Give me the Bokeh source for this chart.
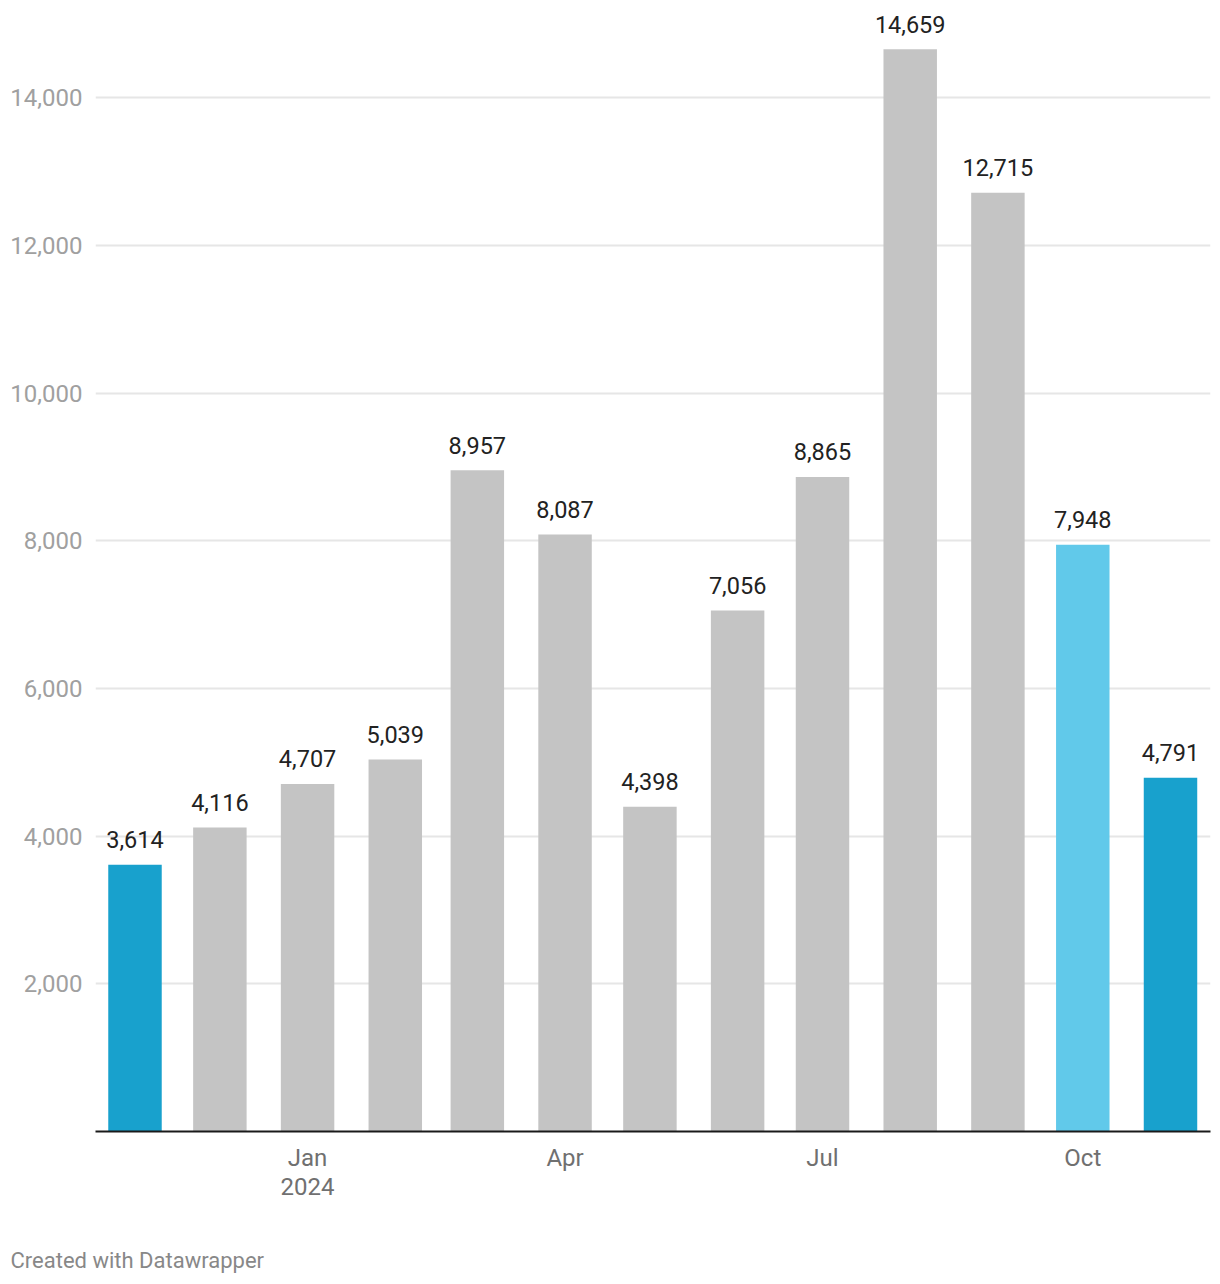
import pandas as pd
from bokeh.plotting import figure
from bokeh.models import ColumnDataSource, FixedTicker, Title, Range1d, NumeralTickFormatter
from bokeh.core.properties import value
from bokeh.embed import file_html
from bokeh.resources import INLINE

# ---- data ----
months = ["2023-11", "2023-12", "2024-01", "2024-02", "2024-03", "2024-04", "2024-05",
          "2024-06", "2024-07", "2024-08", "2024-09", "2024-10", "2024-11"]
counts = [3614, 4116, 4707, 5039, 8957, 8087, 4398, 7056, 8865, 14659, 12715, 7948, 4791]
bar_colors = ["#18a1cd", "#c4c4c4", "#c4c4c4", "#c4c4c4", "#c4c4c4", "#c4c4c4", "#c4c4c4",
              "#c4c4c4", "#c4c4c4", "#c4c4c4", "#c4c4c4", "#61c9ea", "#18a1cd"]
y_ticks = [2000, 4000, 6000, 8000, 10000, 12000, 14000]
x_tick_months = ["2024-01", "2024-04", "2024-07", "2024-10"]
x_tick_labels = ["Jan\n2024", "Apr", "Jul", "Oct"]

origin = pd.Timestamp("2023-11-01")
def to_day(m):
    return int((pd.Timestamp(m + "-01") - origin).days)

days = [to_day(m) for m in months]
tick_days = [to_day(m) for m in x_tick_months]
labels = [f"{v:,}" for v in counts]

src = ColumnDataSource(dict(x=days, top=counts, color=bar_colors, label=labels))

FONT = "Roboto"

p = figure(width=1212, height=1276, output_backend="svg", toolbar_location=None,
           x_range=Range1d(-13.96, 380.14), y_range=Range1d(0, 15210),
           min_border_left=95, min_border_right=2, min_border_top=8, min_border_bottom=145)
p.outline_line_color = None
p.background_fill_color = "white"
p.border_fill_color = "white"

p.vbar(x="x", top="top", bottom=0, width=18.9, color="color", line_color=None, source=src)
p.text(x="x", y="top", text="label", source=src, text_align="center",
       text_baseline="alphabetic", y_offset=-25, text_font=value(FONT),
       text_font_size="23.5px", text_color="#222222")

# y axis
p.yaxis.ticker = FixedTicker(ticks=y_ticks)
p.yaxis.formatter = NumeralTickFormatter(format="0,0")
p.yaxis.axis_line_color = None
p.yaxis.major_tick_line_color = None
p.yaxis.minor_tick_line_color = None
p.yaxis.major_tick_out = 0
p.yaxis.major_tick_in = 0
p.yaxis.major_label_standoff = 13
p.yaxis.major_label_text_font = FONT
p.yaxis.major_label_text_font_size = "24px"
p.yaxis.major_label_text_color = "#a0a0a0"

p.ygrid.ticker = FixedTicker(ticks=y_ticks)
p.ygrid.grid_line_color = "#e6e6e6"
p.ygrid.grid_line_width = 2
p.xgrid.visible = False

# x axis
p.xaxis.ticker = FixedTicker(ticks=tick_days)
p.xaxis.major_label_overrides = dict(zip(tick_days, x_tick_labels))
p.xaxis.axis_line_color = "#1a1a1a"
p.xaxis.axis_line_width = 2
p.xaxis.major_tick_line_color = None
p.xaxis.minor_tick_line_color = None
p.xaxis.major_tick_out = 0
p.xaxis.major_tick_in = 0
p.xaxis.major_label_standoff = 12
p.xaxis.major_label_text_font = FONT
p.xaxis.major_label_text_font_size = "24px"
p.xaxis.major_label_text_color = "#707070"
p.xaxis.major_label_text_line_height = 1.07
# blank axis label used only as vertical spacing before the footer
p.xaxis.axis_label = " "
p.xaxis.axis_label_text_font_size = "10px"
p.xaxis.axis_label_standoff = 25

footer = Title(text="Created with Datawrapper", align="left", offset=-85, standoff=4,
               text_font=FONT, text_font_size="22px", text_font_style="normal",
               text_color="#888888")
p.add_layout(footer, "below")

open("out.html", "w").write(file_html(p, INLINE))
